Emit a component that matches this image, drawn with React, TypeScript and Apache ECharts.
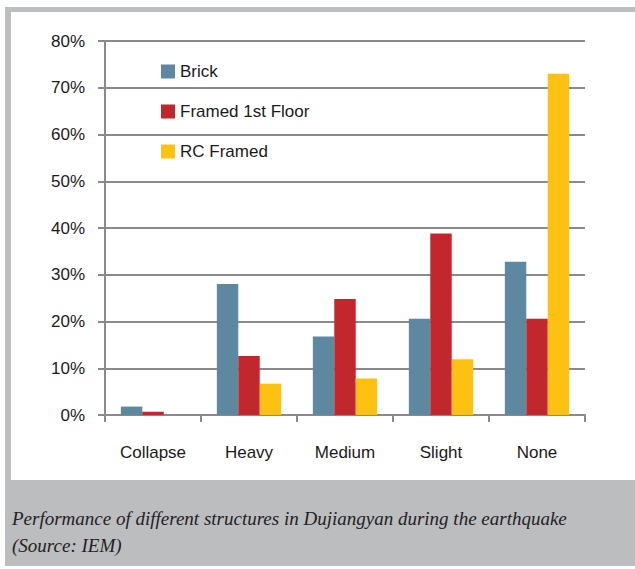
import React, { useEffect, useRef } from "react";
import * as echarts from "echarts";

const categories = ["Collapse", "Heavy", "Medium", "Slight", "None"];
const seriesNames = ["Brick", "Framed 1st Floor", "RC Framed"];
const brick = [1.8, 28, 16.8, 20.6, 32.8];
const framed = [0.7, 12.6, 24.8, 38.8, 20.6];
const rcFramed = [0, 6.7, 7.8, 11.9, 73];
const seriesColors = ["#5e87a0", "#c1272d", "#fdc111"];
const captionLines = [
  "Performance of different structures in Dujiangyan during the earthquake",
  "(Source: IEM)",
];

export default function App() {
  const ref = useRef<HTMLDivElement>(null);
  useEffect(() => {
    if (!ref.current) return;
    const chart = echarts.init(ref.current, undefined, { renderer: "svg" });
    const gray = "#bcbdbf";
    const axisGray = "#8a8a8a";
    const font = "Liberation Sans";
    const values = [brick, framed, rcFramed];
    chart.setOption({
      animation: false,
      backgroundColor: "#ffffff",
      grid: { left: 105, right: 50, top: 41, bottom: 154, containLabel: false },
      legend: {
        orient: "vertical",
        left: 156,
        top: 58,
        itemWidth: 14,
        itemHeight: 14,
        itemGap: 23,
        icon: "rect",
        textStyle: { fontFamily: font, fontSize: 17, color: "#1a1a1a" },
        data: seriesNames,
      },
      xAxis: {
        type: "category",
        data: categories,
        axisLine: { lineStyle: { color: axisGray, width: 2 } },
        axisTick: { show: true, length: 7, lineStyle: { color: axisGray, width: 2 } },
        axisLabel: { fontFamily: font, fontSize: 17, color: "#1a1a1a", margin: 29 },
      },
      yAxis: {
        type: "value",
        min: 0,
        max: 80,
        interval: 10,
        axisLine: { show: true, lineStyle: { color: axisGray, width: 2 } },
        axisTick: { show: true, length: 7, lineStyle: { color: axisGray, width: 2 } },
        splitLine: { show: true, lineStyle: { color: axisGray, width: 2 } },
        axisLabel: {
          fontFamily: font,
          fontSize: 17,
          color: "#1a1a1a",
          margin: 20,
          formatter: "{value}%",
        },
      },
      series: seriesNames.map((name, i) => ({
        name,
        type: "bar",
        data: values[i],
        barGap: "0%",
        barCategoryGap: "33%",
        itemStyle: { color: seriesColors[i] },
      })),
      graphic: [
        { type: "rect", left: 5, top: 7, shape: { width: 630, height: 5 }, style: { fill: gray }, silent: true },
        { type: "rect", left: 5, top: 7, shape: { width: 6, height: 473 }, style: { fill: gray }, silent: true },
        { type: "rect", left: 5, top: 480, shape: { width: 630, height: 86 }, style: { fill: gray }, silent: true },
        ...captionLines.map((t, i) => ({
          type: "text",
          x: 12,
          y: 518 + i * 27,
          style: {
            text: t,
            fill: "#222222",
            font: `italic 19px "Liberation Serif"`,
            textVerticalAlign: "middle",
            verticalAlign: "middle",
          },
          silent: true,
        })),
      ],
    });
    return () => chart.dispose();
  }, []);
  return (
    <div
      ref={ref}
      style={{ position: "absolute", left: 0, top: 0, width: 635, height: 569 }}
    />
  );
}
